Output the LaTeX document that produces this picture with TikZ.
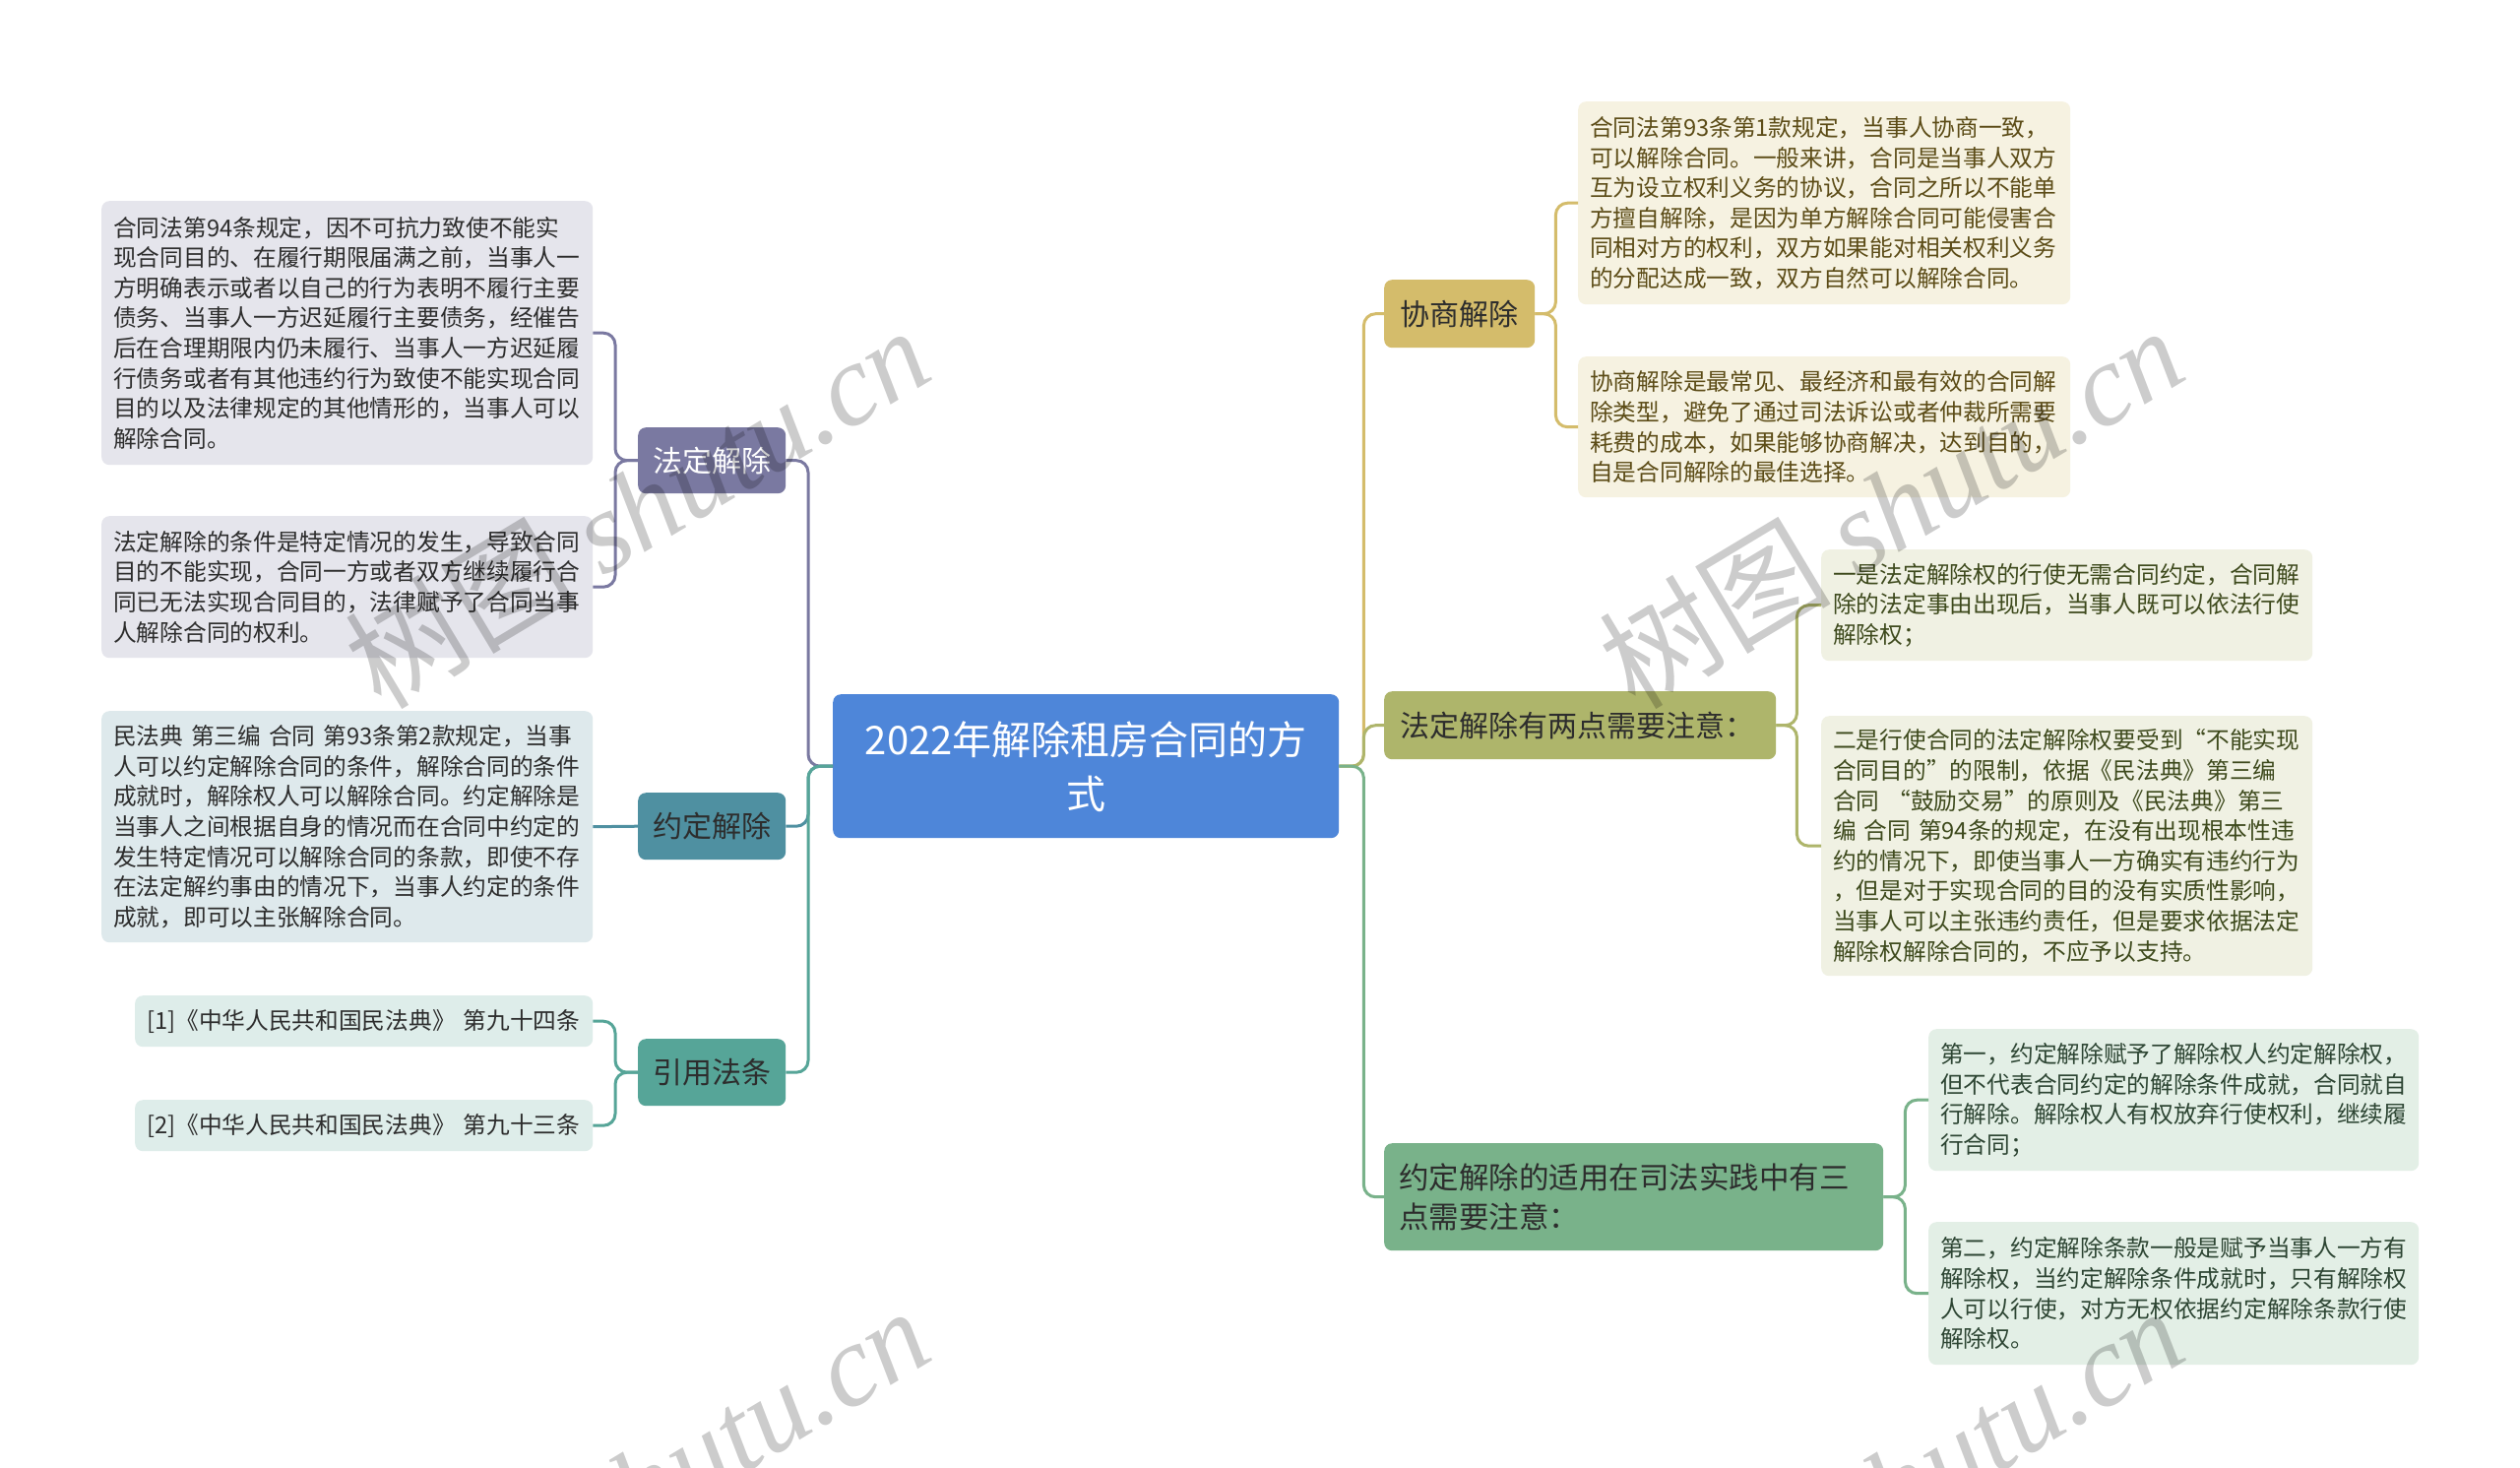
\documentclass[tikz,border=0pt]{standalone}
\usepackage{fontspec}
\setmainfont{Noto Sans CJK SC}
\newfontfamily\wmlatin{Liberation Serif}
\definecolor{cRoot}{HTML}{4E86D9}
\definecolor{cPur}{HTML}{7A79A1}
\definecolor{cTeal}{HTML}{4F90A1}
\definecolor{cTG}{HTML}{56A598}
\definecolor{cGold}{HTML}{D4BC6B}
\definecolor{cOlive}{HTML}{AEB56B}
\definecolor{cGreen}{HTML}{79B28A}
\definecolor{fPur}{HTML}{E5E5EC}
\definecolor{fTeal}{HTML}{DEE9EC}
\definecolor{fTG}{HTML}{DEEDEA}
\definecolor{fGold}{HTML}{F6F2E1}
\definecolor{fOlive}{HTML}{F0F1E3}
\definecolor{fGreen}{HTML}{E3EFE6}
\definecolor{tDark}{HTML}{2D2D2D}
\definecolor{tGold}{HTML}{5C4C17}
\definecolor{tOlive}{HTML}{3E4A1D}
\definecolor{tGreen}{HTML}{2D4533}
\tikzset{
  box/.style={rounded corners=8pt, inner ysep=0pt, anchor=north west, draw=none},
  leaf/.style={box, align=left, inner xsep=12pt, font=\fontsize{23.7}{30.6}\selectfont},
  topic/.style={box, align=center, inner xsep=0pt, font=\fontsize{30}{40}\selectfont},
  conn/.style={line width=3pt, rounded corners=12pt},
  wm/.style={text=black, text opacity=0.2, font=\fontsize{118}{118}\selectfont, rotate=31},
}
\begin{document}
\begin{tikzpicture}[x=1pt, y=-1pt]
\fill[white] (0,0) rectangle (2560,1491);
\useasboundingbox (0,0) rectangle (2560,1491);

% root
\node[box, fill=cRoot, text=white, minimum width=514pt, minimum height=146pt, align=center, inner xsep=0pt, font=\fontsize{40}{55}\selectfont] (root) at (846,705) {2022年解除租房合同的方\\式};

% left topics
\node[topic, fill=cPur, text=white, minimum width=150pt, minimum height=67pt] (fdjc) at (648,434) {法定解除};
\node[topic, fill=cTeal, text=tDark, minimum width=150pt, minimum height=68pt] (ydjc) at (648,805) {约定解除};
\node[topic, fill=cTG, text=tDark, minimum width=150pt, minimum height=68pt] (yyft) at (648,1055) {引用法条};

% right topics
\node[topic, fill=cGold, text=tDark, minimum width=153pt, minimum height=69pt] (xsjc) at (1406,284) {协商解除};
\node[topic, fill=cOlive, text=tDark, align=left, inner xsep=16pt, text width=366pt, minimum height=69pt] (fdld) at (1406,702) {法定解除有两点需要注意：};
\node[topic, fill=cGreen, text=tDark, align=left, inner xsep=15pt, text width=477pt, minimum height=109pt, font=\fontsize{30.5}{40}\selectfont] (ydsy) at (1406,1161) {约定解除的适用在司法实践中有三\\点需要注意：};

% left leaves
\node[leaf, fill=fPur, text=tDark, text width=475pt, minimum height=268pt] (la) at (103,204) {合同法第94条规定，因不可抗力致使不能实\\
现合同目的、在履行期限届满之前，当事人一\\
方明确表示或者以自己的行为表明不履行主要\\
债务、当事人一方迟延履行主要债务，经催告\\
后在合理期限内仍未履行、当事人一方迟延履\\
行债务或者有其他违约行为致使不能实现合同\\
目的以及法律规定的其他情形的，当事人可以\\
解除合同。};
\node[leaf, fill=fPur, text=tDark, text width=475pt, minimum height=144pt] (lb) at (103,524) {法定解除的条件是特定情况的发生，导致合同\\
目的不能实现，合同一方或者双方继续履行合\\
同已无法实现合同目的，法律赋予了合同当事\\
人解除合同的权利。};
\node[leaf, fill=fTeal, text=tDark, text width=475pt, minimum height=235pt] (lc) at (103,722) {民法典~第三编~合同~第93条第2款规定，当事\\
人可以约定解除合同的条件，解除合同的条件\\
成就时，解除权人可以解除合同。约定解除是\\
当事人之间根据自身的情况而在合同中约定的\\
发生特定情况可以解除合同的条款，即使不存\\
在法定解约事由的情况下，当事人约定的条件\\
成就，即可以主张解除合同。};
\node[leaf, fill=fTG, text=tDark, text width=441pt, minimum height=52pt] (ld) at (137,1011) {[1]《中华人民共和国民法典》~第九十四条};
\node[leaf, fill=fTG, text=tDark, text width=441pt, minimum height=52pt] (le) at (137,1117) {[2]《中华人民共和国民法典》~第九十三条};

% right leaves
\node[leaf, fill=fGold, text=tGold, text width=476pt, minimum height=206pt] (ra) at (1603,103) {合同法第93条第1款规定，当事人协商一致，\\
可以解除合同。一般来讲，合同是当事人双方\\
互为设立权利义务的协议，合同之所以不能单\\
方擅自解除，是因为单方解除合同可能侵害合\\
同相对方的权利，双方如果能对相关权利义务\\
的分配达成一致，双方自然可以解除合同。};
\node[leaf, fill=fGold, text=tGold, text width=476pt, minimum height=143pt] (rb) at (1603,362) {协商解除是最常见、最经济和最有效的合同解\\
除类型，避免了通过司法诉讼或者仲裁所需要\\
耗费的成本，如果能够协商解决，达到目的，\\
自是合同解除的最佳选择。};
\node[leaf, fill=fOlive, text=tOlive, text width=475pt, minimum height=113pt] (rc) at (1850,558) {一是法定解除权的行使无需合同约定，合同解\\
除的法定事由出现后，当事人既可以依法行使\\
解除权；};
\node[leaf, fill=fOlive, text=tOlive, text width=475pt, minimum height=264pt] (rd) at (1850,727) {二是行使合同的法定解除权要受到“不能实现\\
合同目的”的限制，依据《民法典》第三编\\
合同~“鼓励交易”的原则及《民法典》第三\\
编~合同~第94条的规定，在没有出现根本性违\\
约的情况下，即使当事人一方确实有违约行为\\
，但是对于实现合同的目的没有实质性影响，\\
当事人可以主张违约责任，但是要求依据法定\\
解除权解除合同的，不应予以支持。};
\node[leaf, fill=fGreen, text=tGreen, text width=474pt, minimum height=144pt] (re) at (1959,1045) {第一，约定解除赋予了解除权人约定解除权，\\
但不代表合同约定的解除条件成就，合同就自\\
行解除。解除权人有权放弃行使权利，继续履\\
行合同；};
\node[leaf, fill=fGreen, text=tGreen, text width=474pt, minimum height=145pt] (rf) at (1959,1241) {第二，约定解除条款一般是赋予当事人一方有\\
解除权，当约定解除条件成就时，只有解除权\\
人可以行使，对方无权依据约定解除条款行使\\
解除权。};

% root connectors
\draw[conn, cPur] (root.west) -- ++(-25,0) |- (fdjc.east);
\draw[conn, cTeal] (root.west) -- ++(-25,0) |- (ydjc.east);
\draw[conn, cTG] (root.west) -- ++(-25,0) |- (yyft.east);
\draw[conn, cGold] (root.east) -- ++(25,0) |- (xsjc.west);
\draw[conn, cOlive] (root.east) -- ++(25,0) |- (fdld.west);
\draw[conn, cGreen] (root.east) -- ++(25,0) |- (ydsy.west);

% leaf connectors
\draw[conn, cPur] (fdjc.west) -- ++(-23,0) |- (la.east);
\draw[conn, cPur] (fdjc.west) -- ++(-23,0) |- (lb.east);
\draw[conn, cTeal] (ydjc.west) -- (lc.east);
\draw[conn, cTG] (yyft.west) -- ++(-23,0) |- (ld.east);
\draw[conn, cTG] (yyft.west) -- ++(-23,0) |- (le.east);
\draw[conn, cGold] (xsjc.east) -- ++(21,0) |- (ra.west);
\draw[conn, cGold] (xsjc.east) -- ++(21,0) |- (rb.west);
\draw[conn, cOlive] (fdld.east) -- ++(21,0) |- (rc.west);
\draw[conn, cOlive] (fdld.east) -- ++(21,0) |- (rd.west);
\draw[conn, cGreen] (ydsy.east) -- ++(22,0) |- (re.west);
\draw[conn, cGreen] (ydsy.east) -- ++(22,0) |- (rf.west);

% watermarks
\begin{scope}
\clip (0,0) rectangle (2560,1491);
\node[wm] (wm1) at (647,514) {树图 {\wmlatin\itshape shutu.cn}};
\node[wm] (wm2) at (1921,514) {树图 {\wmlatin\itshape shutu.cn}};
\node[wm] (wm3) at (647,1510) {树图 {\wmlatin\itshape shutu.cn}};
\node[wm] (wm4) at (1921,1510) {树图 {\wmlatin\itshape shutu.cn}};
\end{scope}
\end{tikzpicture}
\end{document}
